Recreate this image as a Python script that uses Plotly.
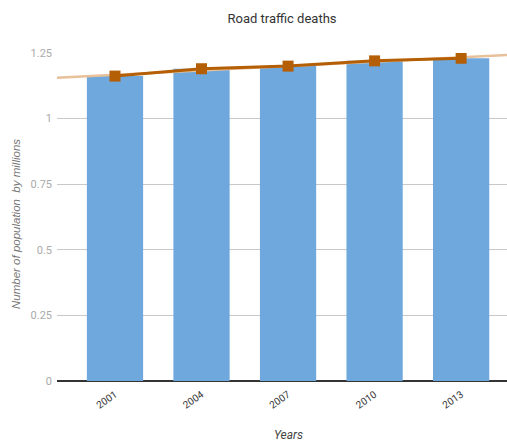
import numpy as np
import plotly.graph_objects as go

years = ["2001", "2004", "2007", "2010", "2013"]
deaths = [1.162, 1.19, 1.2, 1.22, 1.23]
y_ticks = [0, 0.25, 0.5, 0.75, 1, 1.25]
y_tick_labels = ["0", "0.25", "0.5", "0.75", "1", "1.25"]

idx = list(range(len(years)))
x_lo, x_hi = -0.67, 4.53
slope, intercept = np.polyfit(idx, deaths, 1)
trend_x = [x_lo, x_hi]
trend_y = [intercept + slope * x for x in trend_x]

fig = go.Figure()
fig.add_trace(go.Bar(x=idx, y=deaths, width=0.65, marker=dict(color="#6fa8dc", line=dict(width=0)),
                     showlegend=False))
fig.add_trace(go.Scatter(x=trend_x, y=trend_y, mode="lines", line=dict(color="#e8c09a", width=2.5),
                         showlegend=False))
fig.add_trace(go.Scatter(x=idx, y=deaths, mode="lines+markers",
                         line=dict(color="#b45f06", width=3),
                         marker=dict(symbol="square", size=11, color="#b45f06"),
                         showlegend=False))

fig.update_layout(
    width=507, height=441,
    margin=dict(l=57, r=0, t=53, b=60),
    paper_bgcolor="white", plot_bgcolor="white",
    font=dict(family="Roboto, sans-serif"),
    title=dict(text="Road traffic deaths", x=282/507, xanchor="center", y=1 - 18/441, yanchor="middle",
               font=dict(size=13, color="#333333")),
    xaxis=dict(range=[x_lo, x_hi], tickmode="array", tickvals=idx, ticktext=years,
               tickangle=-35, tickfont=dict(size=10, color="#333333"), showgrid=False,
               showline=False, zeroline=False, ticks="", ticklabelstandoff=5),
    yaxis=dict(range=[0, 1.25], tickmode="array", tickvals=y_ticks, ticktext=y_tick_labels,
               tickfont=dict(size=11, color="#aaaaaa"), gridcolor="#c8c8c8", gridwidth=1,
               zeroline=True, zerolinecolor="#333333", zerolinewidth=1.5, showline=False, ticks="",
               ticklabelstandoff=4),
    bargap=0.35,
    annotations=[
        dict(text="<i>Number of population  by millions</i>", xref="paper", yref="paper",
             x=-41/450, y=(381 - 224) / 328, xanchor="center", yanchor="middle", textangle=-90,
             showarrow=False, font=dict(size=11.5, color="#777777", family="Liberation Sans, Arial, sans-serif")),
        dict(text="<i>Years</i>", xref="paper", yref="paper", x=(288 - 57) / 450, y=-(435 - 381) / 328,
             xanchor="center", yanchor="middle", showarrow=False, font=dict(size=12, color="#444444")),
    ],
)

fig.write_html("out.html", config={"displayModeBar": False},
               post_script="document.body.style.margin='0';document.body.style.overflow='hidden';")
